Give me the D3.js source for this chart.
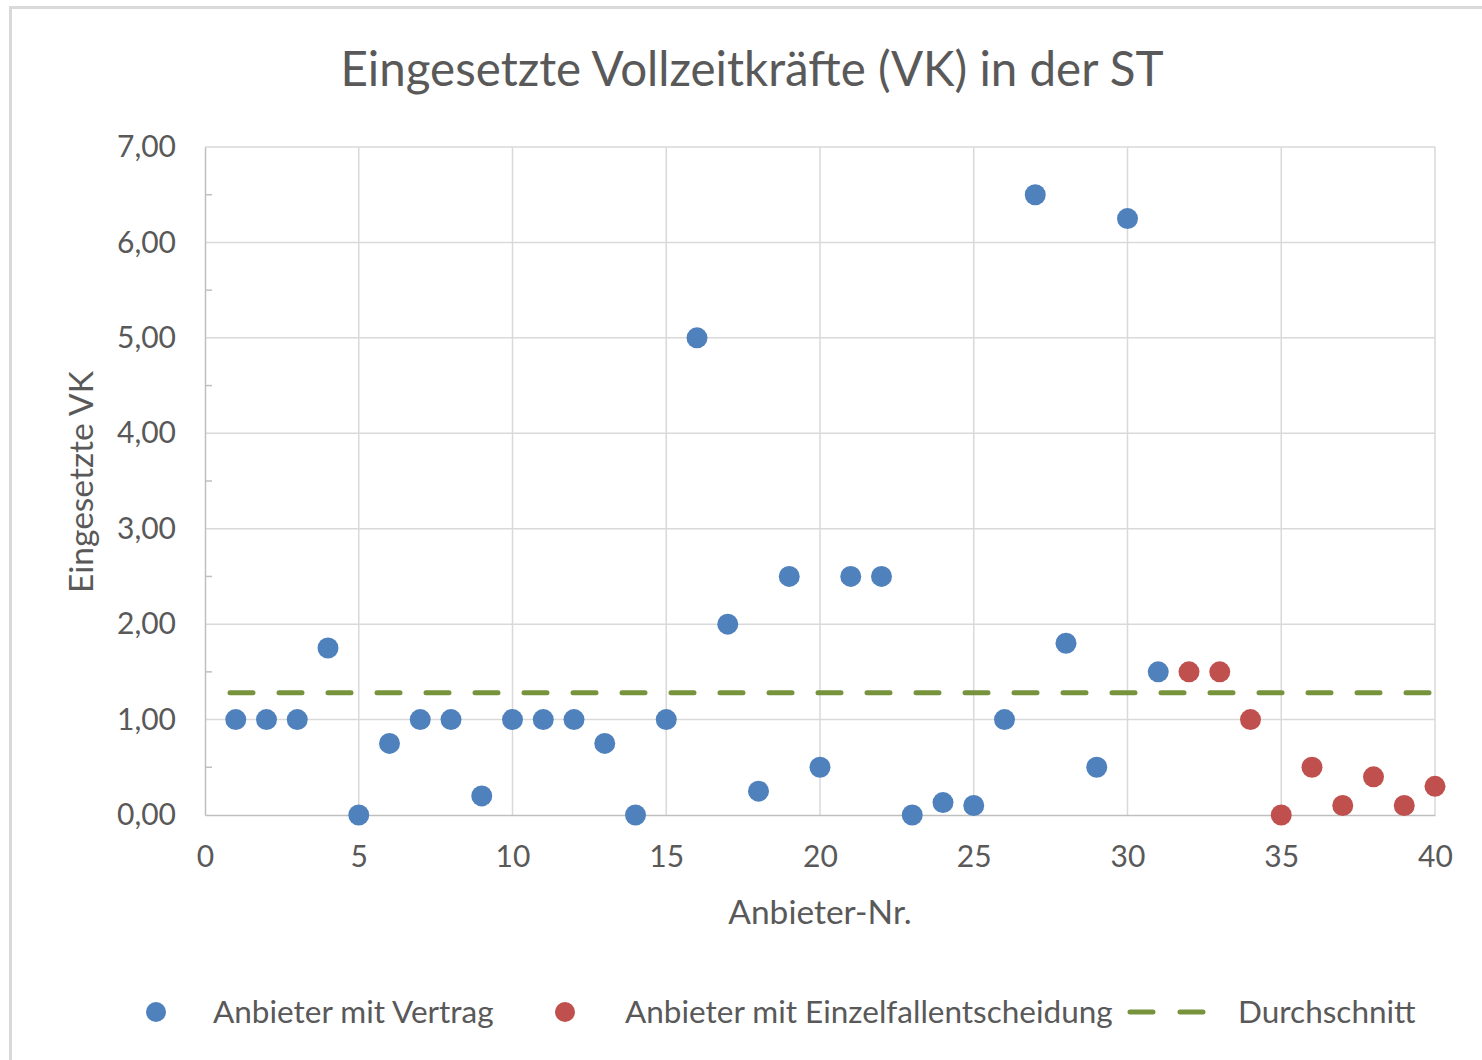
<!DOCTYPE html>
<html>
<head>
<meta charset="utf-8">
<script src="https://cdn.jsdelivr.net/npm/d3@7"></script>
<style>
  body { margin: 0; background: #fff; }
  text { font-family: Lato, "Open Sans", sans-serif; fill: #595959; }
</style>
</head>
<body>
<div id="chart"></div>
<script>
// Anbieter mit Vertrag (1..31)
const vertragNr = [1,2,3,4,5,6,7,8,9,10,11,12,13,14,15,16,17,18,19,20,21,22,23,24,25,26,27,28,29,30,31]
const vertragVK = [1.00,1.00,1.00,1.75,0.00,0.75,1.00,1.00,0.20,1.00,1.00,1.00,0.75,0.00,1.00,5.00,2.00,0.25,2.50,0.50,2.50,2.50,0.00,0.13,0.10,1.00,6.50,1.80,0.50,6.25,1.50]
// Anbieter mit Einzelfallentscheidung (32..40)
const einzelNr = [32,33,34,35,36,37,38,39,40]
const einzelVK = [1.50,1.50,1.00,0.00,0.50,0.10,0.40,0.10,0.30]
const durchschnitt = 1.28
const xTicks = [0,5,10,15,20,25,30,35,40]
const yTicks = [0,1,2,3,4,5,6,7]

const W = 1482, H = 1060
const plotLeft = 205, plotRight = 1435, plotTop = 147, plotBottom = 815

const svg = d3.select('#chart').append('svg')
    .attr('width', W)
    .attr('height', H)

// outer chart frame (cut off on the right and bottom)
svg.append('rect')
    .attr('x', 10.5).attr('y', 7.5)
    .attr('width', W + 20).attr('height', H + 20)
    .attr('fill', 'none')
    .attr('stroke', '#d9d9d9')
    .attr('stroke-width', 3)

const x = d3.scaleLinear().domain([0, 40]).range([plotLeft, plotRight])
const y = d3.scaleLinear().domain([0, 7]).range([plotBottom, plotTop])
const fmt = d => d3.format('.2f')(d).replace('.', ',')

// gridlines
svg.append('g').selectAll('line')
    .data(yTicks.slice(1))
    .enter().append('line')
    .attr('x1', plotLeft).attr('x2', plotRight)
    .attr('y1', d => y(d)).attr('y2', d => y(d))
    .attr('stroke', '#d9d9d9').attr('stroke-width', 1.5)
svg.append('g').selectAll('line')
    .data(xTicks.slice(1))
    .enter().append('line')
    .attr('x1', d => x(d)).attr('x2', d => x(d))
    .attr('y1', plotTop).attr('y2', plotBottom)
    .attr('stroke', '#d9d9d9').attr('stroke-width', 1.5)

// axes
const yAxis = svg.append('g')
    .attr('transform', `translate(${plotLeft},0)`)
    .call(d3.axisLeft(y).tickValues(yTicks).tickFormat(fmt).tickSize(0).tickPadding(29))
yAxis.select('.domain').attr('stroke', '#bfbfbf').attr('stroke-width', 1.5)
yAxis.selectAll('text').attr('font-size', 30).style('font-family', 'Lato, sans-serif').attr('fill', '#595959')

// minor ticks on y axis
svg.append('g').selectAll('line')
    .data(d3.range(0.5, 7, 1))
    .enter().append('line')
    .attr('x1', plotLeft).attr('x2', plotLeft + 7)
    .attr('y1', d => y(d)).attr('y2', d => y(d))
    .attr('stroke', '#bfbfbf').attr('stroke-width', 1.5)

const xAxis = svg.append('g')
    .attr('transform', `translate(0,${plotBottom})`)
    .call(d3.axisBottom(x).tickValues(xTicks).tickSize(0).tickPadding(31))
xAxis.select('.domain').attr('stroke', '#bfbfbf').attr('stroke-width', 1.5)
xAxis.selectAll('text').attr('font-size', 30).style('font-family', 'Lato, sans-serif').attr('fill', '#595959')

// average line
svg.append('line')
    .attr('x1', x(0) + 25).attr('x2', x(40))
    .attr('y1', y(durchschnitt)).attr('y2', y(durchschnitt))
    .attr('stroke', '#77933c')
    .attr('stroke-width', 5)
    .attr('stroke-linecap', 'round')
    .attr('stroke-dasharray', '23 26')

// points
const blue = '#4f81bd', red = '#c0504d'
svg.append('g').selectAll('circle')
    .data(d3.zip(vertragNr, vertragVK))
    .enter().append('circle')
    .attr('cx', d => x(d[0])).attr('cy', d => y(d[1]))
    .attr('r', 10.5).attr('fill', blue)
svg.append('g').selectAll('circle')
    .data(d3.zip(einzelNr, einzelVK))
    .enter().append('circle')
    .attr('cx', d => x(d[0])).attr('cy', d => y(d[1]))
    .attr('r', 10.5).attr('fill', red)

// titles
svg.append('text')
    .attr('x', 752).attr('y', 86)
    .attr('text-anchor', 'middle')
    .attr('font-size', 47.5)
    .text('Eingesetzte Vollzeitkräfte (VK) in der ST')
svg.append('text')
    .attr('x', 820).attr('y', 924)
    .attr('text-anchor', 'middle')
    .attr('font-size', 33.5)
    .text('Anbieter-Nr.')
svg.append('text')
    .attr('transform', 'translate(93,482) rotate(-90)')
    .attr('text-anchor', 'middle')
    .attr('font-size', 33.5)
    .text('Eingesetzte VK')

// legend
const lg = svg.append('g')
lg.append('circle').attr('cx', 156).attr('cy', 1012).attr('r', 10).attr('fill', blue)
lg.append('text').attr('x', 213).attr('y', 1023).attr('font-size', 31.5).text('Anbieter mit Vertrag')
lg.append('circle').attr('cx', 565).attr('cy', 1012).attr('r', 10).attr('fill', red)
lg.append('text').attr('x', 625).attr('y', 1023).attr('font-size', 31.5).text('Anbieter mit Einzelfallentscheidung')
lg.append('line')
    .attr('x1', 1130).attr('x2', 1205).attr('y1', 1012).attr('y2', 1012)
    .attr('stroke', '#77933c').attr('stroke-width', 5)
    .attr('stroke-linecap', 'round')
    .attr('stroke-dasharray', '23 27')
lg.append('text').attr('x', 1238).attr('y', 1023).attr('font-size', 31.5).text('Durchschnitt')
</script>
</body>
</html>
